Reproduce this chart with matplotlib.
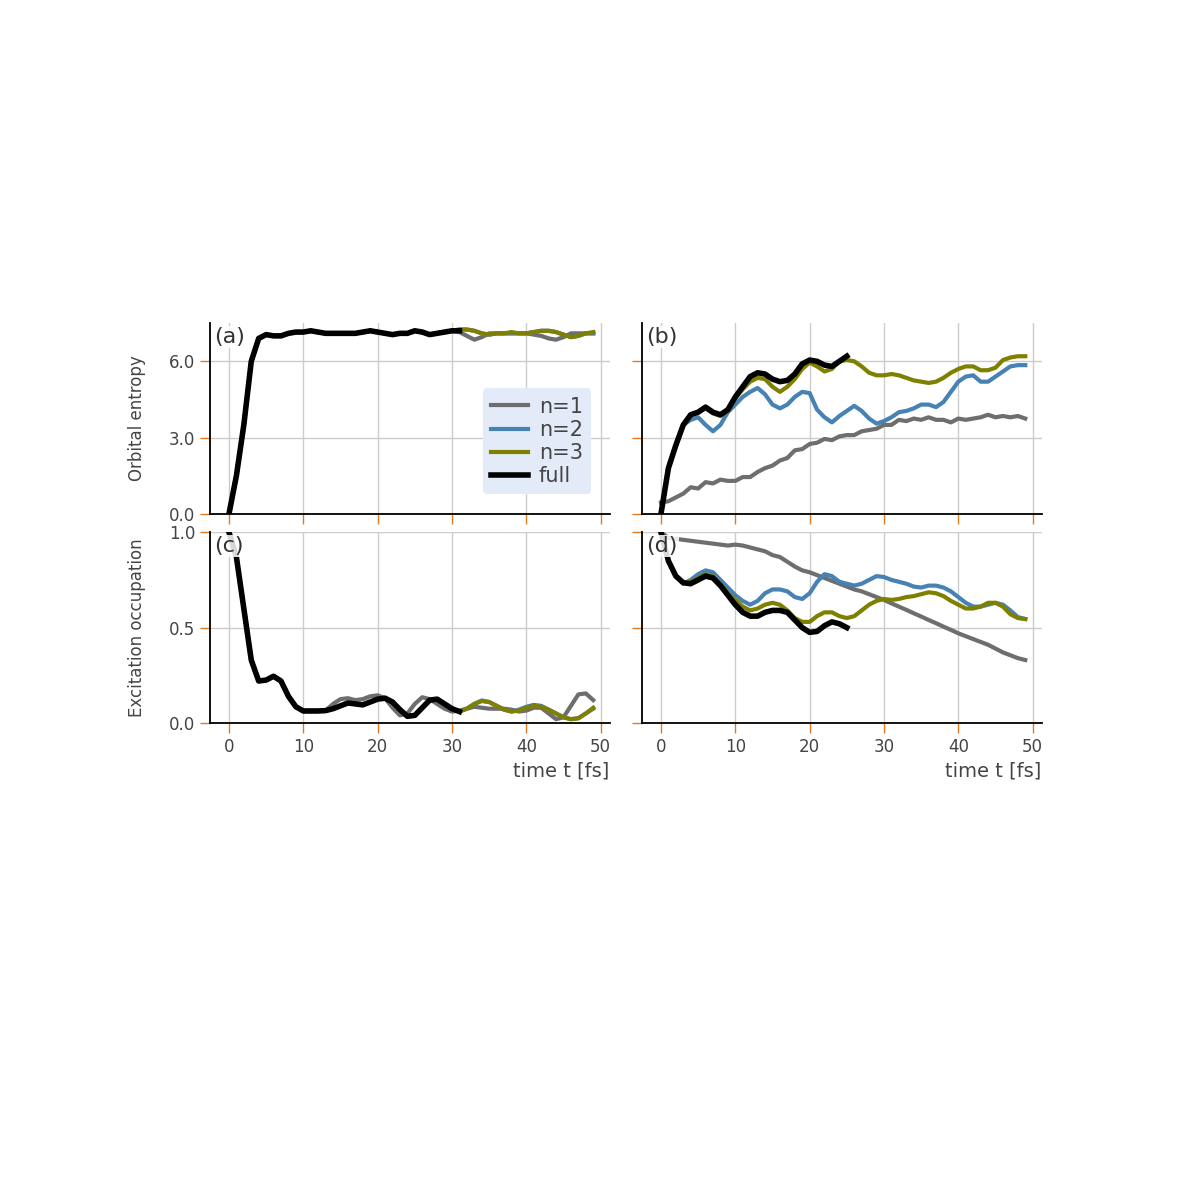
import numpy as np
import matplotlib
matplotlib.use("Agg")
import matplotlib.pyplot as plt

t49 = list(range(50))
t31 = list(range(32))
t25 = list(range(26))

# Panel (a): orbital entropy
a_full = [0,1.5,3.5,6.0,6.9,7.05,7.0,7.0,7.1,7.15,7.15,7.2,7.15,7.1,7.1,7.1,7.1,7.1,7.15,7.2,7.15,7.1,7.05,7.1,7.1,7.2,7.15,7.05,7.1,7.15,7.2,7.2]
a_n1 = a_full[:31] + [7.15,7.0,6.85,6.95,7.1,7.1,7.1,7.1,7.1,7.1,7.05,7.0,6.9,6.85,6.95,7.1,7.1,7.1,7.1]
a_n3 = a_full[:31] + [7.25,7.25,7.2,7.1,7.05,7.1,7.1,7.15,7.1,7.1,7.15,7.2,7.2,7.15,7.05,6.95,7.0,7.1,7.15]
a_n2 = a_full[:31] + [7.25,7.25,7.2,7.1,7.05,7.1,7.1,7.1,7.1,7.1,7.15,7.2,7.2,7.15,7.05,6.95,7.0,7.1,7.1]

# Panel (b)
b_full = [0,1.8,2.7,3.5,3.9,4.0,4.2,4.0,3.9,4.1,4.6,5.0,5.4,5.55,5.5,5.3,5.2,5.25,5.5,5.9,6.05,6.0,5.85,5.8,6.0,6.2]
b_n3 = [0,1.8,2.7,3.5,3.9,4.0,4.15,3.95,3.85,4.05,4.55,4.9,5.2,5.35,5.3,5.0,4.8,5.0,5.3,5.7,5.95,5.8,5.6,5.7,6.0,6.05,6.0,5.8,5.55,5.45,5.45,5.5,5.45,5.35,5.25,5.2,5.15,5.2,5.35,5.55,5.7,5.8,5.8,5.65,5.65,5.75,6.05,6.15,6.2,6.2]
b_n2 = [0,1.8,2.7,3.5,3.7,3.8,3.5,3.25,3.5,4.0,4.3,4.6,4.8,4.95,4.7,4.3,4.15,4.3,4.6,4.8,4.75,4.1,3.8,3.6,3.85,4.05,4.25,4.05,3.75,3.55,3.65,3.8,4.0,4.05,4.15,4.3,4.3,4.2,4.4,4.8,5.2,5.4,5.45,5.2,5.2,5.4,5.6,5.8,5.85,5.85]
b_n1 = [0.45,0.5,0.65,0.8,1.05,1.0,1.25,1.2,1.35,1.3,1.3,1.45,1.45,1.65,1.8,1.9,2.1,2.2,2.5,2.55,2.75,2.8,2.95,2.9,3.05,3.1,3.1,3.25,3.3,3.35,3.5,3.5,3.7,3.65,3.75,3.7,3.8,3.7,3.7,3.6,3.75,3.7,3.75,3.8,3.9,3.8,3.85,3.8,3.85,3.75]

# Panel (c): excitation occupation
c_full = [1.0,0.87,0.6,0.33,0.22,0.225,0.245,0.22,0.14,0.085,0.063,0.063,0.063,0.065,0.075,0.09,0.105,0.1,0.095,0.11,0.125,0.13,0.11,0.07,0.035,0.04,0.08,0.12,0.125,0.1,0.075,0.06]
c_n1 = c_full[:14] + [0.1,0.125,0.13,0.12,0.125,0.14,0.145,0.13,0.08,0.04,0.05,0.1,0.135,0.125,0.1,0.075,0.06,0.065,0.075,0.085,0.08,0.075,0.075,0.075,0.07,0.06,0.065,0.08,0.08,0.05,0.02,0.03,0.09,0.15,0.155,0.12]
c_n3 = c_full[:31] + [0.06,0.075,0.1,0.115,0.11,0.09,0.07,0.06,0.065,0.08,0.09,0.085,0.07,0.05,0.03,0.02,0.025,0.05,0.08]
c_n2 = c_full[:31] + [0.06,0.075,0.1,0.118,0.11,0.09,0.07,0.06,0.07,0.085,0.095,0.09,0.07,0.05,0.03,0.02,0.025,0.05,0.075]

# Panel (d)
d_full = [1.0,0.85,0.77,0.735,0.73,0.75,0.77,0.76,0.72,0.67,0.62,0.58,0.56,0.56,0.58,0.59,0.59,0.58,0.54,0.5,0.475,0.48,0.51,0.53,0.52,0.50]
d_n3 = [1.0,0.85,0.77,0.735,0.74,0.76,0.78,0.77,0.73,0.68,0.645,0.61,0.59,0.6,0.62,0.63,0.62,0.59,0.55,0.53,0.53,0.56,0.58,0.58,0.56,0.55,0.56,0.59,0.62,0.64,0.65,0.645,0.65,0.66,0.665,0.675,0.685,0.68,0.665,0.64,0.62,0.6,0.6,0.61,0.63,0.63,0.61,0.57,0.55,0.545]
d_n2 = [1.0,0.85,0.77,0.73,0.75,0.78,0.8,0.79,0.75,0.71,0.67,0.64,0.62,0.64,0.68,0.7,0.7,0.69,0.66,0.65,0.68,0.74,0.78,0.77,0.74,0.73,0.72,0.73,0.75,0.77,0.765,0.75,0.74,0.73,0.715,0.71,0.72,0.72,0.71,0.69,0.66,0.63,0.61,0.61,0.62,0.63,0.62,0.59,0.555,0.545]
d_n1 = [1.0,0.97,0.965,0.96,0.955,0.95,0.945,0.94,0.935,0.93,0.935,0.93,0.92,0.91,0.9,0.88,0.87,0.845,0.82,0.8,0.79,0.775,0.76,0.745,0.73,0.715,0.7,0.69,0.675,0.66,0.645,0.627,0.61,0.593,0.575,0.558,0.54,0.523,0.505,0.488,0.47,0.455,0.44,0.425,0.41,0.39,0.37,0.355,0.34,0.33]

labels = ["n=1", "n=2", "n=3", "full"]
colors = ["#6e6e6e", "#4682b4", "#808000", "#000000"]

W = 1200
fig = plt.figure(figsize=(12, 12), dpi=100)
ax_a = fig.add_axes([0.175, 0.5717, 0.333, 0.159])
ax_b = fig.add_axes([0.535, 0.5717, 0.333, 0.159])
ax_c = fig.add_axes([0.175, 0.3975, 0.333, 0.159])
ax_d = fig.add_axes([0.535, 0.3975, 0.333, 0.159])

tc = "#444444"
orange = "#e07b20"

def style(ax, ylim, yticks, ylabels, xlabels, letter):
    ax.set_xlim(-2.55, 51.2)
    ax.set_ylim(*ylim)
    ax.set_xticks([0, 10, 20, 30, 40, 50])
    ax.set_yticks(yticks)
    ax.set_yticklabels(ylabels if ylabels else [])
    if not xlabels:
        ax.set_xticklabels([])
    for s in ["top", "right"]:
        ax.spines[s].set_visible(False)
    for s in ["left", "bottom"]:
        ax.spines[s].set_color("black")
        ax.spines[s].set_linewidth(1.3)
    ax.grid(True, color="#cccccc", lw=1.0)
    ax.set_axisbelow(True)
    ax.tick_params(direction="out", length=7, width=1, color=orange,
                   labelcolor=tc, labelsize=12)
    ax.text(0.01, 0.98, letter, transform=ax.transAxes, ha="left", va="top",
            fontsize=16, color="#333333",
            bbox=dict(facecolor="white", edgecolor="none", pad=1, alpha=0.85), zorder=10)

def plot4(ax, series, ts):
    for s, tt, lab, col in zip(series, ts, labels, colors):
        ax.plot(tt, s, color=col, lw=4 if lab == "full" else 3, label=lab)

plot4(ax_a, [a_n1, a_n2, a_n3, a_full], [t49, t49, t49, t31])
plot4(ax_b, [b_n1, b_n2, b_n3, b_full], [t49, t49, t49, t25])
plot4(ax_c, [c_n1, c_n2, c_n3, c_full], [t49, t49, t49, t31])
plot4(ax_d, [d_n1, d_n2, d_n3, d_full], [t49, t49, t49, t25])

style(ax_a, (0, 7.5), [0, 3, 6], ["0.0", "3.0", "6.0"], False, "(a)")
style(ax_b, (0, 7.5), [0, 3, 6], None, False, "(b)")
style(ax_c, (0, 1.0), [0, 0.5, 1.0], ["0.0", "0.5", "1.0"], True, "(c)")
style(ax_d, (0, 1.0), [0, 0.5, 1.0], None, True, "(d)")

ax_a.set_ylabel("Orbital entropy", color=tc, fontsize=12)
ax_c.set_ylabel("Excitation occupation", color=tc, fontsize=12)
for ax in (ax_c, ax_d):
    ax.set_xlabel("time t [fs]", color=tc, fontsize=14, loc="right")
ax_a.yaxis.set_label_coords(-0.16, 0.5)
ax_c.yaxis.set_label_coords(-0.16, 0.5)

leg = ax_a.legend(loc="center right", bbox_to_anchor=(0.98, 0.38), fontsize=15,
                  facecolor="#e3ebf8", edgecolor="none", framealpha=1,
                  handlelength=1.8, handletextpad=0.5, labelspacing=0.15,
                  borderpad=0.4)
for tx in leg.get_texts():
    tx.set_color(tc)

fig.savefig("out.png", dpi=100)
